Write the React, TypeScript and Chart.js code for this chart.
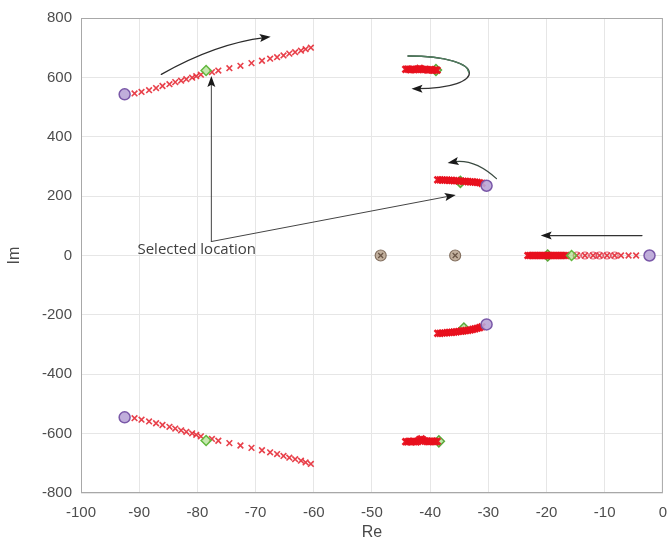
import React, { useEffect, useRef } from "react";
import { Chart, registerables } from "chart.js";

Chart.register(...registerables);

// ---------- axis ticks ----------
const xTickValues = [-100, -90, -80, -70, -60, -50, -40, -30, -20, -10, 0];
const yTickValues = [-800, -600, -400, -200, 0, 200, 400, 600, 800];

// ---------- pole trajectories (red x) ----------
const upperBranchRe = [-90.8, -89.6, -88.3, -87.1, -86.0, -84.8, -83.8, -82.8, -81.9, -80.9, -80.2, -79.4, -77.5, -76.4, -74.5, -72.6, -70.7, -68.9, -67.5, -66.3, -65.2, -64.2, -63.2, -62.2, -61.4, -60.5];
const upperBranchIm = [546, 551, 557, 564, 571, 577, 584, 589, 594, 599, 604, 609, 618, 623, 631, 639, 648, 656, 663, 668, 674, 680, 685, 690, 695, 700];
const lowerBranchRe = [-90.8, -89.6, -88.3, -87.1, -86.0, -84.8, -83.8, -82.8, -81.9, -80.9, -80.2, -79.4, -77.5, -76.4, -74.5, -72.6, -70.7, -68.9, -67.5, -66.3, -65.2, -64.2, -63.2, -62.2, -61.4, -60.5];
const lowerBranchIm = [-548, -553, -559, -565, -571, -577, -583, -589, -594, -599, -604, -609, -618, -624, -632, -640, -648, -656, -663, -669, -675, -681, -686, -691, -697, -702];

const topClusterRe = [-44.2, -43.9, -43.6, -43.3, -43.0, -42.7, -42.4, -42.1, -41.8, -41.5, -41.2, -40.9, -40.6, -40.3, -40.0, -39.7, -39.4, -39.1, -38.8];
const topClusterIm = [627, 628, 627, 626, 627, 626, 627, 628, 630, 628, 626, 627, 626, 625, 626, 625, 624, 625, 624];
const bottomClusterRe = [-44.2, -43.9, -43.6, -43.3, -43.0, -42.7, -42.4, -42.1, -41.8, -41.5, -41.2, -40.9, -40.6, -40.3, -40.0, -39.7, -39.4, -39.1, -38.8];
const bottomClusterIm = [-627, -628, -626, -627, -626, -627, -628, -626, -620, -618, -622, -625, -626, -627, -626, -625, -626, -627, -626];

const midUpperRe = [-38.7, -38.3, -37.9, -37.5, -37.1, -36.7, -36.3, -35.9, -35.5, -35.1, -34.7, -34.3, -33.9, -33.5, -33.1, -32.7, -32.3, -31.9, -31.5, -31.1];
const midUpperIm = [255, 255, 254, 254, 254, 253, 253, 252, 252, 251, 251, 250, 250, 249, 248, 248, 247, 246, 245, 243];
const midLowerRe = [-38.7, -38.3, -37.9, -37.5, -37.1, -36.7, -36.3, -35.9, -35.5, -35.1, -34.7, -34.3, -33.9, -33.5, -33.1, -32.7, -32.3, -31.9, -31.5, -31.1];
const midLowerIm = [-262, -262, -261, -261, -260, -259, -259, -258, -257, -256, -255, -254, -253, -252, -251, -249, -247, -245, -243, -240];

const realAxisDenseRe = [-23.2, -22.9, -22.6, -22.3, -22.0, -21.7, -21.4, -21.1, -20.8, -20.5, -20.2, -19.9, -19.6, -19.3, -19.0, -18.7, -18.4, -18.1, -17.8, -17.5, -17.2, -16.9, -16.6];
const realAxisSparseRe = [-14.8, -13.4, -12.0, -10.9, -9.6, -8.3, -7.2, -5.9, -4.6];
const realAxisCircleRe = [-14.8, -13.4, -12.0, -10.9, -9.6, -8.3];

// ---------- start points (purple), selected (green), zeros (brown) ----------
const startRe = [-92.5, -92.5, -30.3, -30.3, -2.3];
const startIm = [543, -545, 235, -232, 0];
const selectedOpenRe = [-78.5, -78.5, -15.7];
const selectedOpenIm = [623, -623, 0];
const selectedHiddenRe = [-39.0, -38.5, -34.8, -34.2, -19.8];
const selectedHiddenIm = [625, -626, 248, -246, 0];
const zeroRe = [-48.5, -35.7];
const zeroIm = [0, 0];

const annotationText = "Selected location";

const pts = (re: number[], im: number[]) => re.map((x, i) => ({ x, y: im[i] }));
const onAxis = (re: number[]) => re.map((x) => ({ x, y: 0 }));

const redSparse = [
  ...pts(upperBranchRe, upperBranchIm),
  ...pts(lowerBranchRe, lowerBranchIm),
  ...onAxis(realAxisSparseRe),
];
const redDense = [
  ...pts(topClusterRe, topClusterIm),
  ...pts(bottomClusterRe, bottomClusterIm),
  ...pts(midUpperRe, midUpperIm),
  ...pts(midLowerRe, midLowerIm),
  ...onAxis(realAxisDenseRe),
];

// ---------- annotation geometry in data units ----------
const ANN = {
  sweepUpper: { p0: [-86.2, 610], c: [-76.8, 714], p1: [-67.4, 737] },
  uturn: { p0: [-43.8, 672], c1: [-30.0, 672], c2: [-30.0, 562], p1: [-43.2, 562] },
  sweepMid: { p0: [-28.6, 259], c: [-32.4, 328], p1: [-37.0, 312] },
  realArrow: { p0: [-3.6, 67], p1: [-21.0, 67] },
  selUp: { p0: [-77.6, 47], p1: [-77.6, 605] },
  selDiag: { p0: [-77.6, 47], p1: [-35.6, 204] },
  text: [-90.3, 20],
};

function arrowHead(ctx: CanvasRenderingContext2D, tx: number, ty: number, fx: number, fy: number, color: string) {
  const ang = Math.atan2(ty - fy, tx - fx);
  const len = 11;
  const half = 4;
  ctx.save();
  ctx.translate(tx, ty);
  ctx.rotate(ang);
  ctx.beginPath();
  ctx.moveTo(0, 0);
  ctx.lineTo(-len, -half);
  ctx.lineTo(-len * 0.8, 0);
  ctx.lineTo(-len, half);
  ctx.closePath();
  ctx.fillStyle = color;
  ctx.fill();
  ctx.restore();
}

const overlayPlugin = {
  id: "overlay",
  afterDatasetsDraw(chart: any) {
    const { ctx, scales } = chart;
    const X = (v: number) => scales.x.getPixelForValue(v);
    const Y = (v: number) => scales.y.getPixelForValue(v);
    const P = (p: number[]) => [X(p[0]), Y(p[1])];
    ctx.save();
    ctx.lineWidth = 1.3;
    ctx.lineCap = "round";

    {
      const a = P(ANN.sweepUpper.p0), c = P(ANN.sweepUpper.c), b = P(ANN.sweepUpper.p1);
      ctx.strokeStyle = "#2b2b2b";
      ctx.beginPath();
      ctx.moveTo(a[0], a[1]);
      ctx.quadraticCurveTo(c[0], c[1], b[0] - 6, b[1] + 1);
      ctx.stroke();
      arrowHead(ctx, b[0], b[1], c[0], c[1], "#1a1a1a");
    }
    {
      const p0 = P(ANN.uturn.p0), p1 = P(ANN.uturn.c1), p2 = P(ANN.uturn.c2), p3 = P(ANN.uturn.p1);
      ctx.strokeStyle = "#333";
      ctx.beginPath();
      ctx.moveTo(p0[0], p0[1]);
      ctx.bezierCurveTo(p1[0], p1[1], p2[0], p2[1], p3[0] + 5, p3[1]);
      ctx.stroke();
      const q1 = [(p0[0] + p1[0]) / 2, (p0[1] + p1[1]) / 2];
      const q2 = [(p0[0] + 2 * p1[0] + p2[0]) / 4, (p0[1] + 2 * p1[1] + p2[1]) / 4];
      const q3 = [(p0[0] + 3 * p1[0] + 3 * p2[0] + p3[0]) / 8, (p0[1] + 3 * p1[1] + 3 * p2[1] + p3[1]) / 8];
      ctx.strokeStyle = "#4f7f5f";
      ctx.beginPath();
      ctx.moveTo(p0[0], p0[1]);
      ctx.bezierCurveTo(q1[0], q1[1], q2[0], q2[1], q3[0], q3[1]);
      ctx.stroke();
      arrowHead(ctx, p3[0], p3[1], p2[0], p2[1], "#1a1a1a");
    }
    {
      const a = P(ANN.sweepMid.p0), c = P(ANN.sweepMid.c), b = P(ANN.sweepMid.p1);
      ctx.strokeStyle = "#3a4a40";
      ctx.beginPath();
      ctx.moveTo(a[0], a[1]);
      ctx.quadraticCurveTo(c[0], c[1], b[0] + 5, b[1] - 1);
      ctx.stroke();
      arrowHead(ctx, b[0], b[1], c[0], c[1], "#1a1a1a");
    }
    const straight = (s: { p0: number[]; p1: number[] }, color: string) => {
      const a = P(s.p0), b = P(s.p1);
      const ang = Math.atan2(b[1] - a[1], b[0] - a[0]);
      ctx.strokeStyle = color;
      ctx.beginPath();
      ctx.moveTo(a[0], a[1]);
      ctx.lineTo(b[0] - Math.cos(ang) * 6, b[1] - Math.sin(ang) * 6);
      ctx.stroke();
      arrowHead(ctx, b[0], b[1], a[0], a[1], "#1a1a1a");
    };
    straight(ANN.realArrow, "#333");
    ctx.lineWidth = 1;
    straight(ANN.selUp, "#444");
    straight(ANN.selDiag, "#444");

    ctx.fillStyle = "#404040";
    ctx.font = '15px "Open Sans", "Liberation Sans", sans-serif';
    ctx.textAlign = "left";
    ctx.textBaseline = "middle";
    const t = P(ANN.text);
    ctx.fillText(annotationText, t[0], t[1]);
    ctx.restore();
  },
  afterDraw(chart: any) {
    const { ctx, chartArea } = chart;
    ctx.save();
    ctx.strokeStyle = "#a8a8a8";
    ctx.lineWidth = 1;
    ctx.strokeRect(chartArea.left + 0.5, chartArea.top + 0.5, chartArea.right - chartArea.left - 1, chartArea.bottom - chartArea.top - 1);
    ctx.fillStyle = "#4a4a4a";
    ctx.font = '16px "Liberation Sans", Arial, sans-serif';
    ctx.textAlign = "center";
    ctx.textBaseline = "middle";
    ctx.fillText("Re", (chartArea.left + chartArea.right) / 2, 533);
    ctx.translate(15, (chartArea.top + chartArea.bottom) / 2);
    ctx.rotate(-Math.PI / 2);
    ctx.fillText("Im", 0, 0);
    ctx.restore();
  },
};

export default function App() {
  const ref = useRef<HTMLCanvasElement | null>(null);
  useEffect(() => {
    if (!ref.current) return;
    const chart = new Chart(ref.current, {
      type: "scatter",
      data: {
        datasets: [
          {
            label: "start",
            data: pts(startRe, startIm),
            pointStyle: "circle",
            pointRadius: 5.5,
            backgroundColor: "rgba(185,165,215,0.9)",
            borderColor: "#7a58a8",
            borderWidth: 1.5,
          },
          {
            label: "selected",
            data: pts(selectedOpenRe, selectedOpenIm),
            pointStyle: "rectRot",
            pointRadius: 5,
            backgroundColor: "rgba(150,215,110,0.55)",
            borderColor: "#62b83e",
            borderWidth: 1.5,
          },
          {
            label: "zero-x",
            data: pts(zeroRe, zeroIm),
            pointStyle: "crossRot",
            pointRadius: 3.5,
            borderColor: "#6a5646",
            borderWidth: 1.3,
          },
          {
            label: "zero",
            data: pts(zeroRe, zeroIm),
            pointStyle: "circle",
            pointRadius: 5.5,
            backgroundColor: "rgba(180,158,135,0.8)",
            borderColor: "#857262",
            borderWidth: 1.2,
          },
          {
            label: "ring",
            data: onAxis(realAxisCircleRe),
            pointStyle: "circle",
            pointRadius: 3.5,
            backgroundColor: "rgba(0,0,0,0)",
            borderColor: "rgba(225,60,80,0.8)",
            borderWidth: 1.2,
          },
          {
            label: "poles",
            data: redSparse,
            pointStyle: "crossRot",
            pointRadius: 4,
            borderColor: "rgba(228,30,42,0.85)",
            borderWidth: 1.6,
          },
          {
            label: "poles-dense",
            data: redDense,
            pointStyle: "crossRot",
            pointRadius: 4.5,
            borderColor: "rgba(232,16,30,0.95)",
            borderWidth: 2.6,
          },
          {
            label: "selected-hidden",
            data: pts(selectedHiddenRe, selectedHiddenIm),
            pointStyle: "rectRot",
            pointRadius: 5.5,
            backgroundColor: "rgba(150,215,110,0.6)",
            borderColor: "#5aa83a",
            borderWidth: 1.5,
          },
        ],
      },
      options: {
        animation: false,
        responsive: false,
        events: [],
        layout: { padding: { top: 15, right: 4, left: 0, bottom: 0 } },
        plugins: { legend: { display: false }, tooltip: { enabled: false } },
        scales: {
          x: {
            type: "linear",
            min: -100,
            max: 0,
            afterBuildTicks: (s: any) => {
              s.ticks = xTickValues.map((value) => ({ value }));
            },
            afterFit: (s: any) => {
              s.height = 55;
              s.paddingLeft = 0;
              s.paddingRight = 0;
            },
            grid: { color: "#e6e6e6", drawTicks: false },
            border: { display: false },
            ticks: {
              padding: 11,
              color: "#4d4d4d",
              font: { size: 15, family: '"Liberation Sans", Arial, sans-serif' },
              maxRotation: 0,
              autoSkip: false,
            },
          },
          y: {
            type: "linear",
            min: -800,
            max: 800,
            afterBuildTicks: (s: any) => {
              s.ticks = yTickValues.map((value) => ({ value }));
            },
            afterFit: (s: any) => {
              s.width = 81;
            },
            grid: { color: "#e6e6e6", drawTicks: false },
            border: { display: false },
            ticks: {
              padding: 9,
              color: "#4d4d4d",
              font: { size: 15, family: '"Liberation Sans", Arial, sans-serif' },
              autoSkip: false,
            },
          },
        },
      },
      plugins: [overlayPlugin],
    });
    return () => chart.destroy();
  }, []);

  return (
    <div style={{ position: "absolute", left: 0, top: 0, width: 670, height: 548, background: "#fff" }}>
      <canvas ref={ref} width={670} height={548} style={{ width: 670, height: 548, display: "block" }} />
    </div>
  );
}
